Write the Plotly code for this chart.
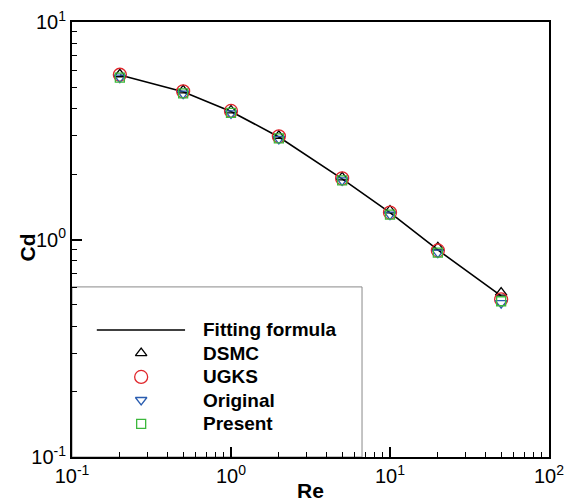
import plotly.graph_objects as go

# ---- data ----
re_vals = [0.2, 0.5, 1, 2, 5, 10, 20, 50]
cd_fit = [5.70, 4.78, 3.88, 2.96, 1.90, 1.33, 0.895, 0.55]
cd_dsmc = [5.75, 4.85, 3.92, 3.00, 1.93, 1.36, 0.92, 0.57]
cd_ugks = [5.72, 4.80, 3.90, 2.98, 1.91, 1.33, 0.89, 0.53]
cd_orig = [5.55, 4.68, 3.80, 2.90, 1.87, 1.30, 0.87, 0.51]
cd_pres = [5.55, 4.70, 3.82, 2.92, 1.87, 1.30, 0.87, 0.52]

legend_names = ["Fitting formula", "DSMC", "UGKS", "Original", "Present"]
x_tickvals = [0.1, 1, 10, 100]
x_ticktext = ["10<sup>-1</sup>", "10<sup>0</sup>", "10<sup>1</sup>", "10<sup>2</sup>"]
y_tickvals = [0.1, 1, 10]
y_ticktext = ["10<sup>-1</sup>", "10<sup>0</sup>", "10<sup>1</sup>"]

FONT = "Liberation Sans, Arial, sans-serif"
marker_styles = [
    dict(symbol="triangle-up-open", color="black", size=10),
    dict(symbol="circle-open", color="#e0262b", size=13),
    dict(symbol="triangle-down-open", color="#2a5db0", size=10),
    dict(symbol="square-open", color="#3cb83c", size=9),
]
series = [cd_dsmc, cd_ugks, cd_orig, cd_pres]

fig = go.Figure()
fig.add_trace(go.Scatter(x=re_vals, y=cd_fit, mode="lines",
                         line=dict(color="black", width=1.6), showlegend=False))
for ys, ms in zip(series, marker_styles):
    fig.add_trace(go.Scatter(x=re_vals, y=ys, mode="markers",
                             marker=dict(symbol=ms["symbol"], color=ms["color"], size=ms["size"],
                                         line=dict(width=1.3, color=ms["color"])),
                             showlegend=False))

minor_vals = []
for d in [0.1, 1, 10]:
    for k in range(2, 10):
        minor_vals.append(d * k)

# ---- manual legend ----
box_x1 = 0.608
box_y1 = 0.391
row_y = [0.292, 0.239, 0.184, 0.131, 0.076]
sym_x = 0.145
text_x = 0.270

fig.add_shape(type="rect", xref="paper", yref="paper", x0=0, y0=0, x1=box_x1, y1=box_y1,
              line=dict(color="#8a8a8a", width=1), fillcolor="white", layer="below")
fig.add_shape(type="line", xref="paper", yref="paper", x0=0.052, x1=0.237, y0=row_y[0], y1=row_y[0],
              line=dict(color="black", width=1.6))
for i, ms in enumerate(marker_styles):
    fig.add_trace(go.Scatter(x=[sym_x], y=[row_y[i + 1]], mode="markers", xaxis="x2", yaxis="y2",
                             marker=dict(symbol=ms["symbol"], color=ms["color"], size=ms["size"],
                                         line=dict(width=1.3, color=ms["color"])),
                             showlegend=False, hoverinfo="skip"))
for name, yy in zip(legend_names, row_y):
    fig.add_annotation(x=text_x, y=yy, xref="paper", yref="paper", text="<b>%s</b>" % name,
                       showarrow=False, xanchor="left", yanchor="middle",
                       font=dict(family=FONT, size=19, color="black"))

# y-axis title placed next to the tick labels
fig.add_annotation(x=-0.094, y=0.482, xref="paper", yref="paper", text="<b>Cd</b>",
                   textangle=-90, showarrow=False, xanchor="center", yanchor="middle",
                   font=dict(family=FONT, size=21, color="black"))

axis_common = dict(showgrid=False, zeroline=False, showline=True, linecolor="black", linewidth=2,
                   mirror=True, ticks="inside", ticklen=10, tickwidth=1.5, tickcolor="black",
                   automargin=False,
                   tickfont=dict(family=FONT, size=20, color="black"))

fig.update_layout(
    width=570, height=502,
    margin=dict(l=72, r=21, t=22, b=45),
    paper_bgcolor="white", plot_bgcolor="white",
    showlegend=False,
    xaxis=dict(type="log", range=[-1, 2], tickvals=x_tickvals, ticktext=x_ticktext,
               minor=dict(tickvals=minor_vals, ticks="inside", ticklen=5, tickwidth=1, tickcolor="black"),
               title=dict(text="<b>Re</b>", font=dict(family=FONT, size=21, color="black"), standoff=6),
               **axis_common),
    yaxis=dict(type="log", range=[-1, 1], tickvals=y_tickvals, ticktext=y_ticktext,
               minor=dict(tickvals=minor_vals, ticks="inside", ticklen=5, tickwidth=1, tickcolor="black"),
               **axis_common),
    xaxis2=dict(overlaying="x", range=[0, 1], visible=False, domain=[0, 1]),
    yaxis2=dict(overlaying="y", range=[0, 1], visible=False, domain=[0, 1]),
)

fig.write_html("out.html")
